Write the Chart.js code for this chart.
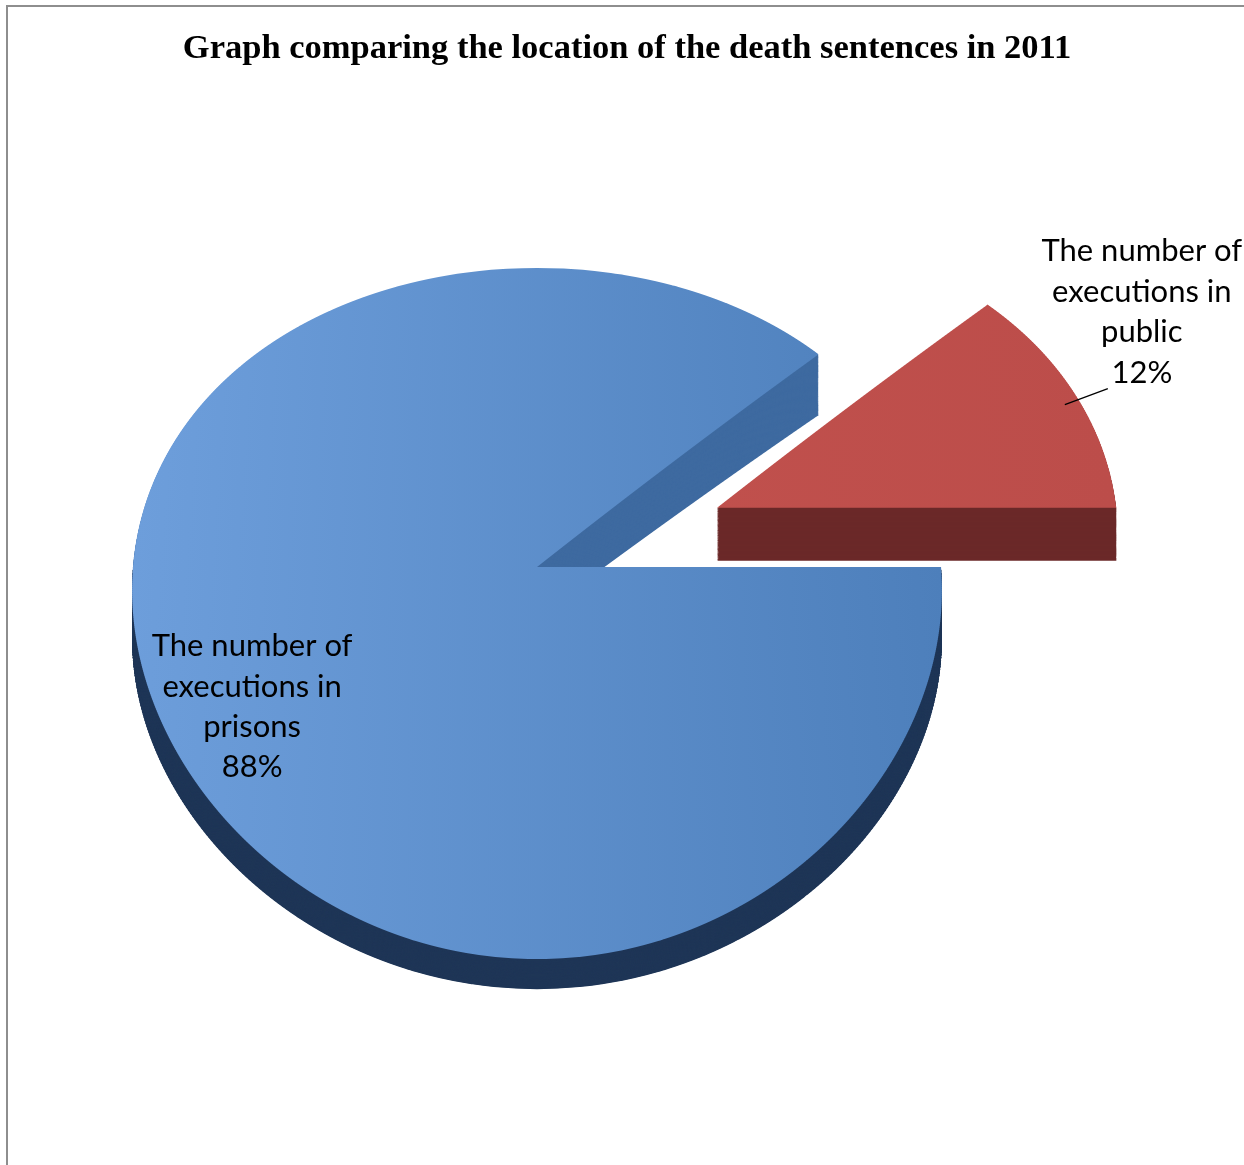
<!DOCTYPE html>
<html><head><meta charset="utf-8">
<script src="https://cdn.jsdelivr.net/npm/chart.js@4.4.1/dist/chart.umd.min.js"></script>
<style>
html,body{margin:0;padding:0;background:#fff;overflow:hidden}
#wrap{position:relative;width:1244px;height:1165px;overflow:hidden}
#frame{position:absolute;left:6px;top:5px;width:1400px;height:1400px;border-left:2px solid #8e8e8e;border-top:2px solid #8e8e8e;pointer-events:none}
canvas{position:absolute;left:0;top:0}
</style></head><body>
<div id="wrap"><canvas id="c" width="1244" height="1165"></canvas><div id="frame"></div></div>
<script>
const chartTitle = 'Graph comparing the location of the death sentences in 2011';
const categories = ['The number of executions in prisons', 'The number of executions in public'];
const categoryLines = [['The number of', 'executions in', 'prisons'], ['The number of', 'executions in', 'public']];
const values = [88, 12];

// ---- styling / 3D projection settings ----
const topColors = [['#6d9edb', '#4d7fbb'], ['#c4534f', '#bc4d4a']];
const cutColors = ['#3e6aa0', '#6b2928'];
const sideColors = ['#1f3657', '#6b2928'];
const explode = [0, 0.485];                 // fraction of radius
const PERS = {cx: 537, b: 567, a: 263, c: -0.1346, kx: -0.067, S: 404, d0: 50, d1: -24};
const LAYERS = 64;
const LABEL_FONT = '31px Lato, "Open Sans", sans-serif';
const LH = 40.4;

function yMap(v, t) { return ((PERS.a + t * PERS.d1) * v + PERS.b + t * PERS.d0) / (1 + PERS.c * v); }
function vInv(y, t) { const a = PERS.a + t * PERS.d1, b = PERS.b + t * PERS.d0; return (y - b) / (a - PERS.c * y); }
function dydv(v, t) { const a = PERS.a + t * PERS.d1, b = PERS.b + t * PERS.d0; return (a - PERS.c * b) / Math.pow(1 + PERS.c * v, 2); }
function project(u, v) { return {x: PERS.cx + PERS.S * u / (1 + PERS.kx * v), y: yMap(v, 0)}; }

function drawWarped(ctx, chart, el, i, t, color, yMin, yMax, step) {
  const R = el.outerRadius;
  const mid = (el.startAngle + el.endAngle) / 2;
  const eu = Math.cos(mid) * explode[i], ev = Math.sin(mid) * explode[i];
  let vmin = 0, vmax = 0;
  for (let k = 0; k <= 90; k++) {
    const s = Math.sin(el.startAngle + (el.endAngle - el.startAngle) * k / 90);
    vmin = Math.min(vmin, s); vmax = Math.max(vmax, s);
  }
  const y0 = Math.max(Math.floor(yMap(vmin + ev, t)) - 2, yMin);
  const y1 = Math.min(Math.ceil(yMap(vmax + ev, t)) + 2, yMax);
  const saved = el.options;
  if (color) el.options = Object.assign({}, saved, {backgroundColor: color, borderColor: color});
  for (let ys = y0; ys < y1; ys += step) {
    const ye = Math.min(ys + step, y1);
    const vm = vInv((ys + ye) / 2, t);
    const denX = 1 + PERS.kx * vm;
    const g = dydv(vm, t);
    const sx = PERS.S / (R * denX);
    const sy = g / R;
    const tx = PERS.cx - sx * el.x + PERS.S * eu / denX;
    const ty = yMap(vm, t) - sy * el.y + g * (ev - vm);
    ctx.save();
    ctx.setTransform(1, 0, 0, 1, 0, 0);
    ctx.beginPath(); ctx.rect(0, ys, chart.width, ye - ys); ctx.clip();
    ctx.setTransform(sx, 0, 0, sy, tx, ty);
    el.draw(ctx);
    ctx.restore();
  }
  el.options = saved;
}

const pie3d = {
  id: 'pie3d',
  beforeDatasetsDraw(chart) {
    const ctx = chart.ctx;
    const els = chart.getDatasetMeta(0).data;
    const apexY = Math.round(PERS.b);
    // side walls (extruded layers, back to front)
    for (let L = LAYERS; L >= 1; L--) {
      const t = L / LAYERS;
      els.forEach((el, i) => {
        drawWarped(ctx, chart, el, i, t, cutColors[i], 0, apexY, 3);
        drawWarped(ctx, chart, el, i, t, sideColors[i], apexY, chart.height, 3);
      });
    }
    // top faces
    els.forEach((el, i) => drawWarped(ctx, chart, el, i, 0, null, 0, chart.height, 2));

    // data labels
    const total = values.reduce((a, b) => a + b, 0);
    ctx.save();
    ctx.setTransform(1, 0, 0, 1, 0, 0);
    ctx.font = LABEL_FONT;
    ctx.fillStyle = '#000';
    ctx.textAlign = 'center';
    ctx.textBaseline = 'middle';
    els.forEach((el, i) => {
      const mid = (el.startAngle + el.endAngle) / 2;
      const span = el.endAngle - el.startAngle;
      const eu = Math.cos(mid) * explode[i], ev = Math.sin(mid) * explode[i];
      const pct = Math.round(values[i] / total * 100) + '%';
      const lines = categoryLines[i].concat([pct]);
      if (i === 0) {
        const ang = mid - 0.14, r = 0.79;
        const p = project(eu + Math.cos(ang) * r, ev + Math.sin(ang) * r);
        const y0 = p.y - LH * (lines.length - 1) / 2;
        lines.forEach((txt, k) => ctx.fillText(txt, p.x, y0 + k * LH));
      } else {
        const ang = mid + 0.03 * span, r = 0.96;
        const a = project(eu + Math.cos(ang) * r, ev + Math.sin(ang) * r);
        const lx = a.x + 43, ly = a.y - 16;
        ctx.strokeStyle = '#000'; ctx.lineWidth = 1.3;
        ctx.beginPath(); ctx.moveTo(a.x, a.y); ctx.lineTo(lx, ly); ctx.stroke();
        const bx = lx + 34, lastY = ly - 16;
        lines.forEach((txt, k) => ctx.fillText(txt, bx, lastY - (lines.length - 1 - k) * LH));
      }
    });
    ctx.restore();
    return false;
  }
};

new Chart(document.getElementById('c'), {
  type: 'pie',
  data: {
    labels: categories,
    datasets: [{
      data: values,
      borderWidth: 0,
      backgroundColor: (c) => {
        const i = c.dataIndex;
        const ca = c.chart.chartArea;
        if (!ca || i === undefined) return topColors[i || 0][1];
        const cx = (ca.left + ca.right) / 2;
        const r = c.chart.options.radius;
        const g = c.chart.ctx.createLinearGradient(cx - r, 0, cx + r, 0);
        g.addColorStop(0, topColors[i][0]);
        g.addColorStop(1, topColors[i][1]);
        return g;
      }
    }]
  },
  options: {
    responsive: false,
    animation: false,
    rotation: 90,
    radius: 400,
    layout: {padding: {left: 10}},
    plugins: {
      legend: {display: false},
      tooltip: {enabled: false},
      title: {
        display: true,
        text: chartTitle,
        color: '#000',
        font: {family: '"Liberation Serif", "Times New Roman", serif', size: 34.5, weight: 'bold'},
        padding: {top: 28, bottom: 0}
      }
    }
  },
  plugins: [pie3d]
});
</script>
</body></html>
